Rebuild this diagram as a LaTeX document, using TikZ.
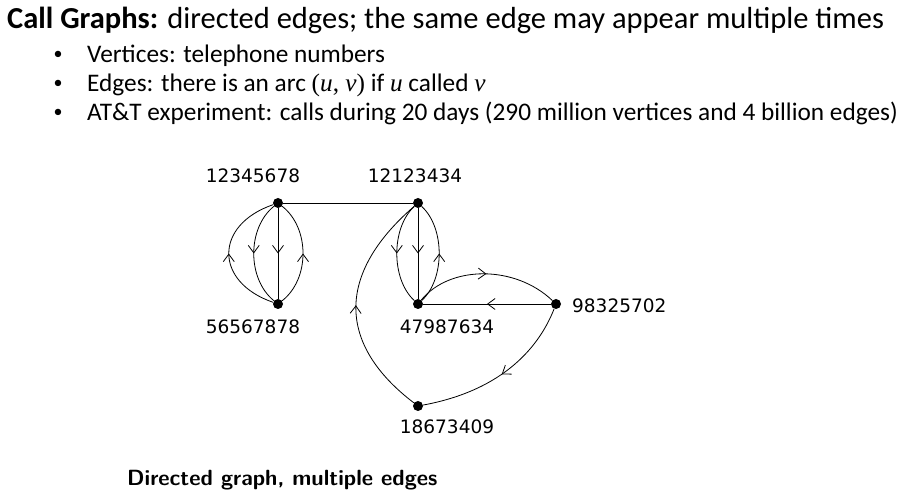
\documentclass[tikz,border=0pt]{standalone}
\usepackage{fontspec}
\setmainfont{Carlito}
\newfontfamily\lblfont{DejaVu Sans}
\newfontfamily\mfont{Liberation Serif}
\usetikzlibrary{arrows.meta,decorations.markings}
\tikzset{
  vtx/.style={circle,fill=black,inner sep=0pt,minimum size=10pt},
  lbl/.style={font=\lblfont\fontsize{18.5}{20}\selectfont, anchor=base, inner sep=0pt},
  edgeline/.style={line width=0.8pt},
  midarrow/.style={postaction={decorate},decoration={markings,mark=at position #1 with {\arrow{Straight Barb[length=7.5pt,width=11pt,line width=0.8pt]}}}},
  midarrow/.default=0.5,
  titletext/.style={font=\fontsize{30.5}{34}\selectfont, anchor=base west, inner sep=0pt},
  bullettext/.style={font=\fontsize{25.3}{29}\selectfont, anchor=base west, inner sep=0pt},
  bulletdot/.style={font=\fontsize{18}{20}\selectfont, inner sep=0pt},
  captext/.style={font=\sffamily\bfseries\fontsize{22}{24}\selectfont, anchor=base west, inner sep=0pt}
}
\begin{document}
\begin{tikzpicture}[x=1pt,y=-1pt]
\useasboundingbox (0,0) rectangle (906,502);
% texts
\node[titletext] (title) at (7,29) {\textbf{Call Graphs:} directed edges; the same edge may appear multiple times};
\node[bulletdot] (b1) at (58,55) {•};
\node[bullettext] (t1) at (87,62.7) {Vertices: telephone numbers};
\node[bulletdot] (b2) at (58,84) {•};
\node[bullettext] (t2) at (87,91.7) {Edges: there is an arc {\mfont(\textit{u}, \textit{v})} if {\mfont\textit{u}} called {\mfont\textit{v}}};
\node[bulletdot] (b3) at (58,113) {•};
\node[bullettext] (t3) at (87,120.7) {AT\&T experiment: calls during 20 days (290 million vertices and 4 billion edges)};
\node[captext] (cap) at (127,486) {Directed graph, multiple edges};
% vertices
\node[vtx] (A) at (278,203) {};
\node[vtx] (B) at (418,203) {};
\node[vtx] (C) at (278,304) {};
\node[vtx] (D) at (418,304) {};
\node[vtx] (E) at (556,304) {};
\node[vtx] (F) at (418,406) {};
% labels
\node[lbl] (lA) at (253,183) {12345678};
\node[lbl] (lB) at (415,183) {12123434};
\node[lbl] (lC) at (253,334) {56567878};
\node[lbl] (lD) at (447,334) {47987634};
\node[lbl,anchor=base west] (lE) at (572,313) {98325702};
\node[lbl] (lF) at (447,434) {18673409};
% edges A-C
\draw[edgeline,midarrow] (C) .. controls (214,282) and (214,225) .. (A);
\draw[edgeline,midarrow] (A) .. controls (247,228) and (247,279) .. (C);
\draw[edgeline,midarrow] (A) -- (C);
\draw[edgeline,midarrow] (C) .. controls (310,279) and (310,228) .. (A);
% A-B
\draw[edgeline] (A) -- (B);
% B-D
\draw[edgeline,midarrow] (B) .. controls (391,228) and (391,279) .. (D);
\draw[edgeline,midarrow] (B) -- (D);
\draw[edgeline,midarrow] (D) .. controls (445,279) and (445,228) .. (B);
% D-E
\draw[edgeline,midarrow] (D) .. controls (450,265) and (515,265) .. (E);
\draw[edgeline,midarrow] (E) -- (D);
% E-F
\draw[edgeline,midarrow] (E) .. controls (540,345) and (505,390) .. (F);
% F-B
\draw[edgeline,midarrow] (F) .. controls (338,345) and (335,275) .. (B);
\end{tikzpicture}
\end{document}
